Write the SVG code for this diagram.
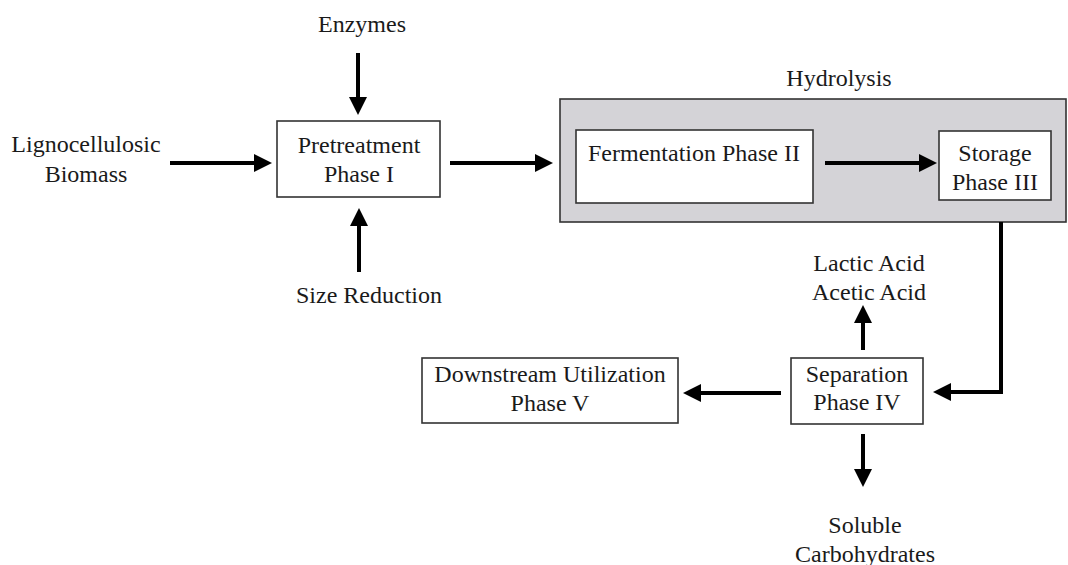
<svg xmlns="http://www.w3.org/2000/svg" width="1068" height="565" viewBox="0 0 1068 565">
  <style>
    .t { font-family: "Liberation Serif", "Times New Roman", serif; font-size: 24px; fill: #1a1a1a; text-anchor: middle; }
    .box { fill: #ffffff; stroke: #333333; stroke-width: 1.6; }
    .grp { fill: #d4d3d7; stroke: #333333; stroke-width: 1.6; }
    .c { fill: none; stroke: #000000; stroke-width: 4; }
  </style>
  <defs>
    <marker id="ah" markerUnits="userSpaceOnUse" markerWidth="20" markerHeight="20" viewBox="0 -10 20 20" refX="0" refY="0" orient="auto">
      <path d="M0,-9 L18,0 L0,9 Z" fill="#000000"/>
    </marker>
  </defs>
  <rect width="1068" height="565" fill="#ffffff"/>

  <g id="hydrolysis">
    <rect class="grp" x="560" y="99" width="506" height="123"/>
    <text class="t" x="839" y="86">Hydrolysis</text>
  </g>

  <g id="lignocellulosic">
    <text class="t" x="86" y="152">Lignocellulosic</text>
    <text class="t" x="86" y="182">Biomass</text>
  </g>
  <g id="enzymes">
    <text class="t" x="362" y="32">Enzymes</text>
  </g>
  <g id="size-reduction">
    <text class="t" x="369" y="303">Size Reduction</text>
  </g>
  <g id="pretreatment">
    <rect class="box" x="277" y="121" width="163" height="76"/>
    <text class="t" x="359" y="153">Pretreatment</text>
    <text class="t" x="359" y="182">Phase I</text>
  </g>
  <g id="fermentation">
    <rect class="box" x="576" y="130" width="237" height="73"/>
    <text class="t" x="694" y="161">Fermentation Phase II</text>
  </g>
  <g id="storage">
    <rect class="box" x="939" y="131" width="112" height="69"/>
    <text class="t" x="995" y="161">Storage</text>
    <text class="t" x="995" y="190">Phase III</text>
  </g>
  <g id="separation">
    <rect class="box" x="791" y="358" width="132" height="66"/>
    <text class="t" x="857" y="382">Separation</text>
    <text class="t" x="857" y="410">Phase IV</text>
  </g>
  <g id="downstream">
    <rect class="box" x="422" y="358" width="256" height="65"/>
    <text class="t" x="550" y="382">Downstream Utilization</text>
    <text class="t" x="550" y="411">Phase V</text>
  </g>
  <g id="acids">
    <text class="t" x="869" y="271">Lactic Acid</text>
    <text class="t" x="869" y="300">Acetic Acid</text>
  </g>
  <g id="soluble">
    <text class="t" x="865" y="533">Soluble</text>
    <text class="t" x="865" y="562">Carbohydrates</text>
  </g>

  <g id="connectors">
    <path class="c" d="M170,163 H254" marker-end="url(#ah)"/>
    <path class="c" d="M358,53 V97" marker-end="url(#ah)"/>
    <path class="c" d="M359,272 V226" marker-end="url(#ah)"/>
    <path class="c" d="M450,163 H535" marker-end="url(#ah)"/>
    <path class="c" d="M825,163 H919" marker-end="url(#ah)"/>
    <path class="c" d="M1001,222 V392 H951" marker-end="url(#ah)"/>
    <path class="c" d="M781,393 H701" marker-end="url(#ah)"/>
    <path class="c" d="M863,350 V323" marker-end="url(#ah)"/>
    <path class="c" d="M863,434 V469" marker-end="url(#ah)"/>
  </g>
</svg>
